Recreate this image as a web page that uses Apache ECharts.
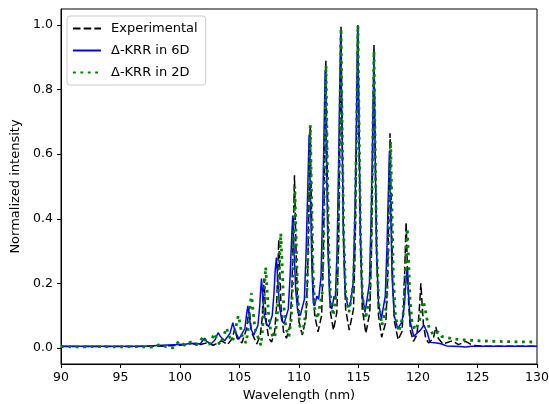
<!DOCTYPE html>
<html>
<head>
<meta charset="utf-8">
<script src="https://cdn.jsdelivr.net/npm/echarts@6/dist/echarts.min.js"></script>
<style>
html,body{margin:0;padding:0;background:#fff;}
#chart{width:549px;height:404px;}
</style>
</head>
<body>
<div id="chart"></div>
<script>
// Wavelength (nm), normalized intensity
var seriesNames = ['Experimental', 'Δ-KRR in 6D', 'Δ-KRR in 2D'];
var xTicks = [90, 95, 100, 105, 110, 115, 120, 125, 130];
var yTicks = [0.0, 0.2, 0.4, 0.6, 0.8, 1.0];

var experimental = [
 [90,0.004],[95,0.004],[98,0.005],[99.5,0.007],[100.5,0.01],[101,0.014],[101.5,0.008],[102.3,0.016],[102.8,0.008],[103.5,0.022],[104.0,0.01],
 [104.4,0.03],[104.6,0.06],[104.8,0.03],[105.2,0.015],
 [105.6,0.06],[105.7,0.09],[105.8,0.125],[105.9,0.09],[106.0,0.05],[106.45,0.012],
 [106.75,0.04],[106.9,0.09],[106.98,0.15],[107.06,0.215],[107.14,0.15],[107.25,0.08],[107.45,0.03],[107.7,0.018],
 [107.95,0.05],[108.1,0.12],[108.2,0.22],[108.3,0.335],[108.4,0.22],[108.5,0.12],[108.7,0.05],[108.95,0.03],
 [109.25,0.07],[109.4,0.18],[109.52,0.35],[109.62,0.535],[109.72,0.35],[109.84,0.18],[110.0,0.08],[110.28,0.04],
 [110.58,0.09],[110.72,0.22],[110.84,0.45],[110.94,0.685],[111.04,0.45],[111.16,0.22],[111.32,0.1],[111.6,0.05],
 [111.9,0.1],[112.04,0.28],[112.16,0.58],[112.26,0.89],[112.36,0.58],[112.48,0.28],[112.64,0.11],[112.9,0.055],
 [113.18,0.11],[113.32,0.31],[113.43,0.65],[113.53,0.995],[113.63,0.65],[113.75,0.31],[113.92,0.12],[114.22,0.055],
 [114.58,0.12],[114.72,0.32],[114.84,0.66],[114.94,1.0],[115.04,0.66],[115.16,0.32],[115.32,0.12],[115.62,0.045],
 [115.95,0.11],[116.09,0.3],[116.2,0.62],[116.3,0.94],[116.4,0.62],[116.52,0.3],[116.68,0.1],[116.95,0.033],
 [117.3,0.08],[117.44,0.21],[117.55,0.44],[117.65,0.665],[117.75,0.44],[117.87,0.21],[118.03,0.08],[118.33,0.025],
 [118.65,0.05],[118.8,0.13],[118.9,0.26],[119.0,0.39],[119.1,0.26],[119.22,0.13],[119.38,0.05],[119.62,0.02],
 [119.9,0.04],[120.05,0.09],[120.15,0.14],[120.24,0.2],[120.34,0.14],[120.46,0.07],[120.65,0.03],[120.9,0.015],
 [121.3,0.03],[121.5,0.065],[121.7,0.03],[122.1,0.012],
 [122.9,0.022],[123.4,0.01],[124.0,0.02],[124.6,0.008],[125.5,0.005],[130,0.005]
];

var krr6D = [
 [90,0.005],[97,0.005],[98.5,0.008],[99.5,0.01],[100.5,0.012],[101.3,0.014],[101.7,0.012],
 [101.9,0.022],[102.06,0.03],[102.25,0.02],[102.6,0.012],
 [102.95,0.025],[103.2,0.047],[103.4,0.035],[103.75,0.022],
 [104.2,0.045],[104.44,0.078],[104.6,0.055],[104.95,0.027],
 [105.45,0.06],[105.58,0.1],[105.7,0.13],[105.82,0.1],[105.95,0.06],[106.2,0.04],
 [106.55,0.07],[106.7,0.13],[106.78,0.18],[106.85,0.215],[106.93,0.17],[107.05,0.11],[107.25,0.075],[107.45,0.065],
 [107.75,0.1],[107.9,0.17],[108.0,0.24],[108.1,0.28],[108.2,0.22],[108.35,0.13],[108.55,0.085],[108.75,0.075],
 [109.1,0.12],[109.25,0.22],[109.37,0.33],[109.47,0.41],[109.57,0.32],[109.72,0.18],[109.9,0.11],[110.1,0.1],
 [110.45,0.15],[110.6,0.3],[110.74,0.5],[110.85,0.66],[110.96,0.48],[111.08,0.25],[111.2,0.14],
 [111.3,0.13],[111.5,0.16],[111.65,0.15],
 [111.85,0.22],[112.0,0.45],[112.1,0.66],[112.2,0.86],[112.3,0.62],[112.42,0.32],[112.58,0.15],
 [112.75,0.12],[112.95,0.16],[113.05,0.15],
 [113.2,0.3],[113.32,0.55],[113.42,0.8],[113.5,0.97],[113.6,0.72],[113.72,0.38],[113.88,0.17],
 [114.1,0.13],[114.3,0.13],
 [114.55,0.2],[114.7,0.42],[114.83,0.72],[114.94,1.0],[115.04,0.7],[115.16,0.36],[115.3,0.17],[115.55,0.11],
 [115.92,0.2],[116.06,0.4],[116.19,0.66],[116.3,0.9],[116.4,0.6],[116.52,0.3],[116.68,0.14],[116.92,0.09],
 [117.25,0.16],[117.4,0.32],[117.5,0.47],[117.6,0.61],[117.7,0.44],[117.82,0.22],[118.0,0.1],
 [118.3,0.06],[118.65,0.08],
 [118.85,0.13],[118.98,0.2],[119.1,0.25],[119.2,0.17],[119.35,0.08],
 [119.65,0.035],[119.9,0.045],[120.2,0.055],[120.5,0.07],[120.65,0.07],[120.8,0.045],[121.0,0.017],[121.6,0.015],[122.0,0.012],[122.4,0.006],[123.5,0.004],[124.0,0.003],[124.5,0.005],[130,0.005]
];

var krr2D = [
 [90,0.004],[91.5,0.003],[93,0.004],[95,0.003],[96.5,0.004],[97.6,0.002],[98.3,0.01],[98.9,0.003],[99.4,0.0],[99.9,0.02],[100.4,0.008],[100.9,0.018],[101.4,0.01],
 [101.7,0.02],[101.95,0.036],[102.2,0.02],[102.45,0.01],
 [102.7,0.03],[102.9,0.045],[103.1,0.025],[103.35,0.01],
 [103.65,0.035],[103.9,0.062],[104.15,0.035],[104.4,0.02],
 [104.65,0.05],[104.78,0.08],[104.9,0.1],[105.02,0.08],[105.2,0.04],[105.55,0.015],
 [105.7,0.05],[105.85,0.11],[106.0,0.17],[106.12,0.12],[106.3,0.06],[106.8,0.008],
 [106.95,0.06],[107.05,0.14],[107.12,0.2],[107.2,0.25],[107.3,0.19],[107.45,0.1],[107.65,0.045],[107.95,0.03],
 [108.15,0.08],[108.27,0.18],[108.38,0.28],[108.47,0.355],[108.57,0.27],[108.7,0.14],[108.9,0.06],[109.15,0.035],
 [109.35,0.09],[109.46,0.2],[109.56,0.35],[109.65,0.5],[109.75,0.35],[109.87,0.18],[110.05,0.07],[110.3,0.045],
 [110.62,0.12],[110.74,0.27],[110.85,0.48],[110.95,0.69],[111.05,0.48],[111.18,0.24],[111.33,0.12],[111.55,0.09],
 [111.95,0.17],[112.07,0.35],[112.17,0.6],[112.27,0.875],[112.37,0.6],[112.49,0.32],[112.64,0.16],[112.88,0.1],
 [113.2,0.19],[113.33,0.4],[113.43,0.68],[113.53,0.99],[113.63,0.68],[113.75,0.36],[113.92,0.17],[114.2,0.11],
 [114.58,0.2],[114.72,0.4],[114.85,0.7],[114.95,1.0],[115.05,0.68],[115.17,0.35],[115.33,0.16],[115.6,0.09],
 [115.95,0.17],[116.09,0.36],[116.2,0.63],[116.3,0.92],[116.4,0.62],[116.53,0.31],[116.7,0.14],[116.97,0.07],
 [117.35,0.13],[117.48,0.27],[117.6,0.46],[117.7,0.64],[117.8,0.45],[117.93,0.22],[118.1,0.1],[118.38,0.05],
 [118.75,0.1],[118.88,0.2],[119.0,0.3],[119.1,0.37],[119.2,0.28],[119.33,0.15],[119.5,0.08],[119.75,0.055],
 [120.1,0.08],[120.3,0.12],[120.45,0.145],[120.6,0.12],[120.75,0.09],[120.95,0.06],[121.3,0.04],[121.7,0.05],[122.0,0.035],
 [122.9,0.028],[123.7,0.025],[125.1,0.022],[126.6,0.02],[128,0.019],[130,0.018]
];

var FONT = 'DejaVu Sans';
var chart = echarts.init(document.getElementById('chart'), null, {renderer: 'canvas'});
chart.setOption({
  animation: false,
  backgroundColor: '#fff',
  grid: {left: 61, right: 12, top: 9, bottom: 40, show: true, borderColor: '#000', borderWidth: 1,
         backgroundColor: 'transparent', containLabel: false, outerBoundsMode: 'none'},
  legend: {
    orient: 'vertical', left: 67, top: 16,
    data: seriesNames,
    itemWidth: 28, itemHeight: 12, itemGap: 9,
    padding: [6, 8, 6, 5],
    borderColor: '#cccccc', borderWidth: 1, borderRadius: 3,
    backgroundColor: 'rgba(255,255,255,0.8)',
    itemStyle: {opacity: 0},
    textStyle: {fontFamily: FONT, fontSize: 13, color: '#000', padding: [0, 0, 0, 5]}
  },
  xAxis: {
    type: 'value', min: 90, max: 130, interval: 5,
    name: 'Wavelength (nm)', nameLocation: 'middle', nameGap: 25,
    nameTextStyle: {fontFamily: FONT, fontSize: 13, color: '#000'},
    axisLine: {show: true, onZero: false, lineStyle: {color: '#000', width: 1}},
    axisTick: {show: true, length: 4, lineStyle: {color: '#000'}},
    axisLabel: {fontFamily: FONT, fontSize: 12.5, color: '#000', margin: 7,
      customValues: xTicks, formatter: function (v) { return String(v); }},
    splitLine: {show: false}
  },
  yAxis: {
    type: 'value', min: -0.05, max: 1.05,
    name: 'Normalized intensity', nameLocation: 'middle', nameGap: 38, nameRotate: 90,
    nameTextStyle: {fontFamily: FONT, fontSize: 13, color: '#000'},
    axisLine: {show: true, onZero: false, lineStyle: {color: '#000', width: 1}},
    axisTick: {show: true, length: 4, lineStyle: {color: '#000'}, customValues: yTicks},
    axisLabel: {fontFamily: FONT, fontSize: 12.5, color: '#000', margin: 8,
      customValues: yTicks, formatter: function (v) { return v.toFixed(1); }},
    splitLine: {show: false}
  },
  series: [
    {name: seriesNames[0], type: 'line', data: experimental, showSymbol: false, symbol: 'none',
     lineStyle: {color: '#000000', width: 1.5, type: [7.5, 3.2]}, itemStyle: {color: '#000000'}},
    {name: seriesNames[1], type: 'line', data: krr6D, showSymbol: false, symbol: 'none',
     lineStyle: {color: '#0000ff', width: 1.5}, itemStyle: {color: '#0000ff'}},
    {name: seriesNames[2], type: 'line', data: krr2D, showSymbol: false, symbol: 'none',
     lineStyle: {color: '#008000', width: 2.8, type: [2.8, 4.6], cap: 'butt'}, itemStyle: {color: '#008000'}}
  ]
});
</script>
</body>
</html>
